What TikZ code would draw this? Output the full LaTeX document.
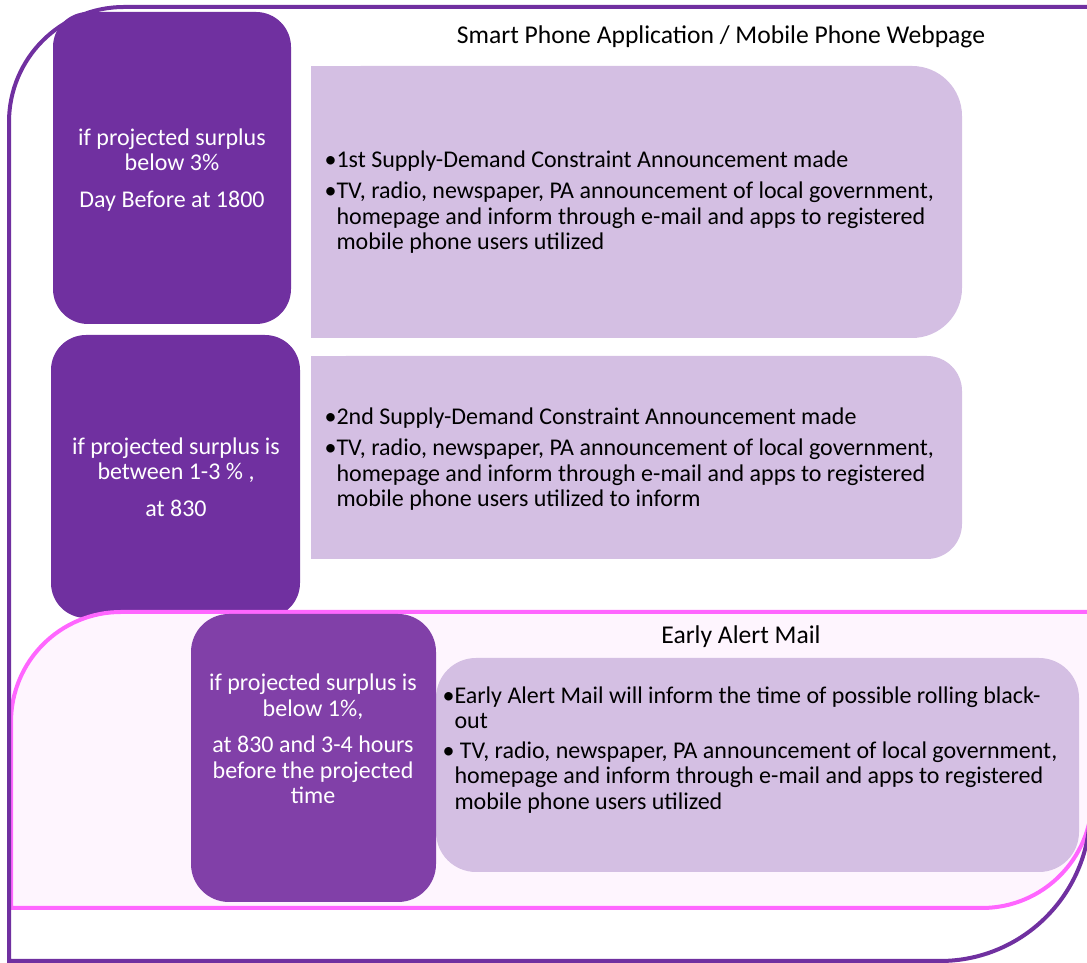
\documentclass[tikz,border=0pt]{standalone}
\usepackage{fontspec}
\setmainfont{Carlito}
\usetikzlibrary{positioning}
\definecolor{darkpurple}{RGB}{112,48,160}
\definecolor{midpurple}{RGB}{129,64,168}
\definecolor{lavender}{RGB}{212,191,227}
\definecolor{alertpink}{RGB}{255,102,255}
\definecolor{alertfill}{RGB}{254,245,254}
\newcommand\bl{\makebox[12pt][l]{•}}
\newcommand\ind{\hspace*{12pt}}

\begin{document}
\begin{tikzpicture}[x=1pt,y=1pt,
    condtxt/.style={text=white,align=center,font=\fontsize{24}{25.5}\selectfont},
    msgtxt/.style={anchor=west,align=left,font=\fontsize{24}{25.5}\selectfont},
    headtxt/.style={font=\fontsize{25.6}{27}\selectfont}]
    \useasboundingbox (0,0) rectangle (1087,963);
    % message panels (square on the left)
    \foreach \xa/\ya/\xb/\yb/\r in {311/625/962/897/50,311/404/962/607/35,436/91/1079/305/40} {
        \fill[lavender,rounded corners=\r pt] (\xa,\ya) rectangle (\xb,\yb);
        \fill[lavender] (\xa,\ya) rectangle (\xa+60,\yb);
    }
    \fill[darkpurple,rounded corners=35pt] (53,639) rectangle (291,951);
    \fill[darkpurple,rounded corners=35pt] (51,345) rectangle (300,628);
    % early alert frame
    \draw[line width=4pt,alertpink,fill=alertfill] (1094,351) -- (121,351) arc[start angle=90,end angle=180,radius=110]
        -- (11,55) -- (982,55) arc[start angle=270,end angle=360,radius=110] -- (1092,351);
    \fill[lavender,rounded corners=40pt] (436,91) rectangle (1079,305);
    \fill[midpurple,rounded corners=38pt] (191,61) rectangle (436,349);
    % outer frame
    \draw[line width=4pt,darkpurple] (1095,956) -- (124,956) arc[start angle=90,end angle=180,radius=115]
        -- (9,2) -- (940,2) arc[start angle=270,end angle=360,radius=150] -- (1090,400);

    \node[headtxt] (title) at (721,926) {Smart Phone Application / Mobile Phone Webpage};
    \node[headtxt] (alerttitle) at (741,326) {Early Alert Mail};

    \node[condtxt] (cond1) at (172,793) {if projected surplus\\below 3\%\\[11pt]Day Before at 1800};
    \node[condtxt] (cond2) at (176,486) {if projected surplus is\\between 1-3 \% ,\\[11pt]at 830};
    \node[condtxt] (cond3) at (313,224) {if projected surplus is\\below 1\%,\\[11pt]at 830 and 3-4 hours\\before the projected\\time};

    \node[msgtxt] (msg1) at (321,761) {\bl 1st Supply-Demand Constraint Announcement made\\[6pt]
        \bl TV, radio, newspaper, PA announcement of local government,\\
        \ind homepage and inform through e-mail and apps to registered\\
        \ind mobile phone users utilized};
    \node[msgtxt] (msg2) at (321,504) {\bl 2nd Supply-Demand Constraint Announcement made\\[6pt]
        \bl TV, radio, newspaper, PA announcement of local government,\\
        \ind homepage and inform through e-mail and apps to registered\\
        \ind mobile phone users utilized to inform};
    \node[msgtxt] (msg3) at (439,213) {\bl Early Alert Mail will inform the time of possible rolling black-\\
        \ind out\\[4pt]
        \bl\ TV, radio, newspaper, PA announcement of local government,\\
        \ind homepage and inform through e-mail and apps to registered\\
        \ind mobile phone users utilized};
\end{tikzpicture}
\end{document}
